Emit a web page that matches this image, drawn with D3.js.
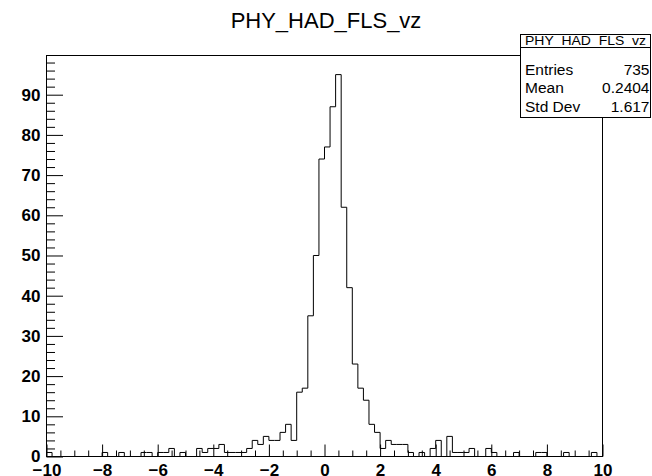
<!DOCTYPE html>
<html><head><meta charset="utf-8">
<script src="https://cdn.jsdelivr.net/npm/d3@7"></script>
<style>
html,body{margin:0;padding:0;background:#fff;}
svg{display:block;font-family:"Liberation Sans",Arial,Helvetica,sans-serif;}
</style></head>
<body><svg id="c" width="652" height="476"></svg>
<script>
// ---- data ----
const title = "PHY_HAD_FLS_vz";
const xMin = -10, xMax = 10, nBins = 100;
const counts = [
 1,0,0,0,0,0,0,0,0,0,
 1,0,0,1,0,0,0,1,1,0,
 1,1,2,0,1,0,0,2,1,2,
 2,3,1,1,1,1,2,4,3,5,
 4,4,6,8,4,16,17,35,50,74,
 77,87,95,62,42,23,17,14,8,6,
 2,4,3,3,3,1,0,1,0,2,
 4,0,5,1,1,1,2,0,0,2,
 1,0,0,0,1,0,0,0,1,1,
 0,0,0,1,0,0,0,0,1,0];
const xMajorTicks = [-10,-8,-6,-4,-2,0,2,4,6,8,10];
const yMajorTicks = [0,10,20,30,40,50,60,70,80,90];
const statLabels = ["Entries","Mean","Std Dev"];
const statValues = ["735","0.2404","1.617"];
const yMaxView = 99.75;

// ---- layout ----
const svg = d3.select("#c");
const L = 46.5, R = 602.5, T = 55.5, B = 456.5;
const x = d3.scaleLinear().domain([xMin, xMax]).range([L, R]);
const y = d3.scaleLinear().domain([0, yMaxView]).range([B, T]);
const bw = (xMax - xMin) / nBins;

svg.append("rect").attr("width",652).attr("height",476).attr("fill","#fff");

// title
svg.append("text").attr("x",326).attr("y",28).attr("text-anchor","middle")
  .attr("font-size",22).attr("fill","#000").text(title);

// histogram step path
const pts = [[x(xMin), y(0)]];
counts.forEach((c,i)=>{
  const x0 = x(xMin + i*bw), x1 = x(xMin + (i+1)*bw);
  pts.push([x0, y(c)]); pts.push([x1, y(c)]);
});
pts.push([x(xMax), y(0)]);
svg.append("path").attr("d", d3.line()(pts)).attr("fill","none")
  .attr("stroke","#000").attr("stroke-width",1);

// frame
svg.append("rect").attr("x",L).attr("y",T).attr("width",R-L).attr("height",B-T)
  .attr("fill","none").attr("stroke","#000").attr("stroke-width",1);

// x axis
const xMinor = d3.range(xMin, xMax + 1e-9, 0.5).filter(v => Math.abs(v/2 - Math.round(v/2)) > 1e-6);
const gx = svg.append("g").attr("transform",`translate(0,${B})`);
gx.call(d3.axisBottom(x).tickValues(xMajorTicks).tickSize(-12).tickPadding(7)
  .tickFormat(d3.format("d")));
const gxm = svg.append("g").attr("transform",`translate(0,${B})`);
gxm.call(d3.axisBottom(x).tickValues(xMinor).tickSize(-6).tickFormat(""));
[gx,gxm].forEach(g=>{ g.select(".domain").remove(); g.selectAll("line").attr("stroke","#000"); });
gx.selectAll("text").attr("font-size",17).attr("font-weight","bold").attr("fill","#000")
  .attr("font-family","'Liberation Sans',Arial,sans-serif");

// y axis
const yMinor = d3.range(0, 99, 2).filter(v => v % 10 !== 0);
const gy = svg.append("g").attr("transform",`translate(${L},0)`);
gy.call(d3.axisLeft(y).tickValues(yMajorTicks).tickSize(-16.5).tickPadding(6)
  .tickFormat(d3.format("d")));
const gym = svg.append("g").attr("transform",`translate(${L},0)`);
gym.call(d3.axisLeft(y).tickValues(yMinor).tickSize(-8.5).tickFormat(""));
[gy,gym].forEach(g=>{ g.select(".domain").remove(); g.selectAll("line").attr("stroke","#000"); });
gy.selectAll("text").attr("font-size",17).attr("font-weight","bold").attr("fill","#000")
  .attr("font-family","'Liberation Sans',Arial,sans-serif");

// stats box
const sb = {x0:520.5, x1:650.5, y0:34.5, yh:47.5, y1:117.5};
const g = svg.append("g");
g.append("rect").attr("x",sb.x0).attr("y",sb.y0).attr("width",sb.x1-sb.x0).attr("height",sb.y1-sb.y0)
  .attr("fill","#fff").attr("stroke","#000");
g.append("line").attr("x1",sb.x0).attr("x2",sb.x1).attr("y1",sb.yh).attr("y2",sb.yh).attr("stroke","#000");
g.append("text").attr("x",(sb.x0+sb.x1)/2).attr("y",45).attr("text-anchor","middle")
  .attr("font-size",13.5).attr("textLength",121).attr("lengthAdjust","spacingAndGlyphs")
  .attr("fill","#000").text(title);
const rowY = d3.scalePoint().domain(statLabels).range([74.5,112]);
statLabels.forEach((s,i)=>{
  g.append("text").attr("x",525).attr("y",rowY(s)).attr("font-size",15.5).attr("fill","#000").text(s);
  g.append("text").attr("x",649.5).attr("y",rowY(s)).attr("text-anchor","end")
   .attr("font-size",15.5).attr("fill","#000").text(statValues[i]);
});
</script></body></html>
